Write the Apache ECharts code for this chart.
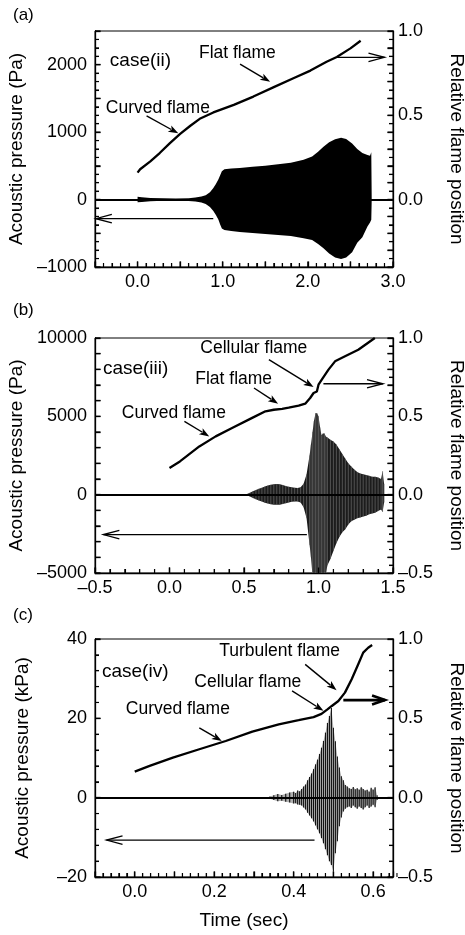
<!DOCTYPE html>
<html>
<head>
<meta charset="utf-8">
<script src="https://cdn.jsdelivr.net/npm/echarts@6/dist/echarts.min.js"></script>
<style>
  html, body { margin: 0; padding: 0; background: #fff; }
  #chart { width: 465px; height: 935px; }
</style>
</head>
<body>
<div id="chart"></div>
<script>
// ---------- (a) case(ii): pressure envelope (Pa) and flame position ----------
const aSigTime  = [0.00, 0.05, 0.15, 0.30, 0.45, 0.60, 0.68, 0.75, 0.80, 0.85, 0.89, 0.92, 0.95, 0.97, 0.99, 1.02, 1.10, 1.20, 1.35, 1.50, 1.65, 1.80, 1.95, 2.05, 2.12, 2.18, 2.25, 2.32, 2.39, 2.45, 2.52, 2.58, 2.64, 2.70, 2.73, 2.745, 2.75];
const aSigHigh  = [40, 35, 25, 18, 15, 20, 30, 45, 65, 110, 170, 230, 300, 360, 420, 450, 460, 470, 485, 500, 525, 545, 590, 640, 710, 780, 850, 895, 918, 900, 830, 750, 690, 660, 650, 700, 0];
const aSigLow   = [-40, -35, -25, -18, -15, -20, -30, -45, -65, -110, -170, -230, -300, -370, -430, -450, -465, -480, -495, -510, -525, -540, -575, -600, -660, -720, -800, -860, -880, -860, -780, -640, -560, -400, -340, -300, 0];
const aFlameTime = [0.00, 0.03, 0.15, 0.26, 0.38, 0.50, 0.62, 0.73, 0.89, 1.13, 1.36, 1.60, 1.83, 2.03, 2.22, 2.34, 2.50, 2.62];
const aFlamePos  = [0.16, 0.18, 0.227, 0.276, 0.335, 0.39, 0.438, 0.479, 0.517, 0.562, 0.611, 0.667, 0.72, 0.765, 0.818, 0.846, 0.897, 0.942];

// ---------- (b) case(iii) ----------
const bSigTime = [0.50, 0.52, 0.54, 0.56, 0.58, 0.60, 0.62, 0.64, 0.66, 0.68, 0.70, 0.72, 0.74, 0.76, 0.78, 0.80, 0.82, 0.84, 0.86, 0.88, 0.90, 0.92, 0.94,
                  0.95, 0.96, 0.97, 0.98, 0.99, 1.00, 1.01, 1.02, 1.03, 1.04, 1.05, 1.06,
                  1.08, 1.10, 1.12, 1.14, 1.16, 1.18, 1.20, 1.22, 1.24, 1.26, 1.28, 1.30, 1.32, 1.34, 1.36, 1.38, 1.40, 1.42, 1.43, 1.44];
const bSigHigh = [0, 40, 120, 220, 300, 380, 440, 520, 580, 630, 660, 680, 670, 620, 560, 510, 470, 440, 430, 480, 700, 1300, 2500,
                  3200, 4000, 4700, 5200, 5200, 5000, 4300, 3800, 3900, 3900, 3700, 3650,
                  3500, 3400, 3200, 2900, 2600, 2300, 2000, 1800, 1600, 1450, 1350, 1300, 1250, 1200, 1150, 1150, 1100, 1000, 1500, 700];
const bSigLow  = [0, -40, -120, -220, -300, -380, -440, -520, -570, -610, -640, -650, -640, -600, -550, -500, -460, -440, -430, -500, -800, -1500, -3200,
                  -4000, -5200, -6000, -6000, -6000, -6000, -6000, -6000, -6000, -5600, -5000, -4500,
                  -4100, -3600, -3100, -2700, -2400, -2200, -1900, -1700, -1600, -1500, -1450, -1400, -1350, -1250, -1200, -1150, -1050, -950, -1100, -500];
const bFlameTime = [0.00, 0.07, 0.20, 0.31, 0.42, 0.555, 0.644, 0.70, 0.756, 0.80, 0.867, 0.911, 0.944, 0.967, 0.989, 1.00, 1.022, 1.067, 1.111, 1.178, 1.267, 1.378];
const bFlamePos  = [0.17, 0.212, 0.308, 0.372, 0.425, 0.49, 0.532, 0.542, 0.547, 0.555, 0.568, 0.581, 0.617, 0.649, 0.659, 0.702, 0.734, 0.798, 0.851, 0.883, 0.925, 1.0];

// ---------- (c) case(iv): pressure in kPa ----------
const cSigTime = [0.34, 0.35, 0.36, 0.37, 0.38, 0.39, 0.40, 0.405, 0.41, 0.415, 0.42, 0.425, 0.43, 0.435, 0.44, 0.445, 0.45, 0.455, 0.46, 0.465,
                  0.47, 0.475, 0.48, 0.485, 0.49, 0.495, 0.50, 0.505, 0.51, 0.515, 0.52, 0.525, 0.53, 0.535, 0.54, 0.545, 0.55, 0.555, 0.56, 0.565,
                  0.57, 0.575, 0.58, 0.585, 0.59, 0.595, 0.60, 0.605, 0.61];
const cSigHigh = [0.3, 0.6, 0.9, 0.7, 1.0, 1.3, 1.5, 1.2, 1.8, 1.6, 2.2, 2.8, 3.3, 4.4, 5.2, 6.1, 7.2, 8.4, 9.6, 11.0,
                  12.6, 14.3, 16.4, 18.8, 20.6, 22.6, 17.6, 14.2, 10.4, 7.6, 5.4, 4.4, 3.2, 2.8, 2.4, 2.2, 2.7, 2.1, 2.4, 2.0,
                  2.6, 2.2, 1.8, 2.0, 1.5, 2.5, 2.0, 2.6, 0.6];
const cSigLow  = [-0.3, -0.6, -0.9, -0.8, -1.0, -1.2, -1.5, -1.4, -1.7, -1.8, -2.0, -2.5, -3.0, -3.8, -4.5, -5.2, -6.0, -7.0, -8.0, -9.0,
                  -10.2, -11.5, -13.0, -14.5, -16.0, -17.0, -18.6, -14.0, -11.0, -7.2, -5.0, -3.5, -2.8, -2.4, -2.2, -2.6, -2.0, -2.4, -2.8, -2.2,
                  -2.6, -3.0, -2.4, -2.0, -2.6, -2.2, -1.8, -2.4, -0.6];
const cFlameTime = [0.00, 0.0375, 0.096, 0.1625, 0.229, 0.296, 0.3625, 0.4125, 0.45, 0.47, 0.485, 0.496, 0.5125, 0.529, 0.546, 0.5625, 0.575, 0.5875, 0.5975];
const cFlamePos  = [0.164, 0.2, 0.252, 0.305, 0.357, 0.416, 0.462, 0.488, 0.508, 0.528, 0.556, 0.578, 0.609, 0.662, 0.746, 0.841, 0.914, 0.945, 0.962];

// ---------- axis ranges and tick spacing: [min, max, major, minor] ----------
const aTimeAxis  = [-0.5, 3.0, 0.5, 0.1];
const aPresAxis  = [-1000, 2500, 500, 125];
const aPosAxis   = [-0.4, 1.0, 0.1, 0.05];
const bTimeAxis  = [-0.5, 1.5, 0.5, 0.1];
const bPresAxis  = [-5000, 10000, 1000, 1000];
const bPosAxis   = [-0.5, 1.0, 0.1, 0.05];
const cTimeAxis  = [-0.1, 0.65, 0.1, 0.02];
const cPresAxis  = [-20, 40, 20, 4];
const cPosAxis   = [-0.5, 1.0, 0.5, 0.1];

// ---------- annotations (data units of each panel's left axis) ----------
const notesA = [
  { text: 'case(ii)', at: [-0.326, 2054], size: 19 },
  { text: 'Curved flame', at: [-0.373, 1354] },
  { arrow: 'solid', from: [0.106, 1240], to: [0.478, 982] },
  { text: 'Flat flame', at: [0.721, 2173] },
  { arrow: 'solid', from: [1.204, 2009], to: [1.557, 1746] },
  { arrow: 'open', from: [2.341, 2109], to: [2.90, 2109] },
  { arrow: 'open', from: [0.889, -283], to: [-0.49, -283] }
];
const notesB = [
  { text: 'case(iii)', at: [-0.447, 8040], size: 19 },
  { text: 'Curved flame', at: [-0.32, 5214] },
  { arrow: 'solid', from: [0.10, 4680], to: [0.267, 3720] },
  { text: 'Flat flame', at: [0.173, 7400] },
  { arrow: 'solid', from: [0.567, 6810], to: [0.729, 5810] },
  { text: 'Cellular flame', at: [0.207, 9320] },
  { arrow: 'solid', from: [0.667, 8620], to: [0.967, 6870] },
  { arrow: 'open', from: [1.033, 7080], to: [1.433, 7080] },
  { arrow: 'open', from: [0.922, -2550], to: [-0.444, -2550] }
];
const notesC = [
  { text: 'case(iv)', at: [-0.0825, 31.8], size: 19 },
  { text: 'Curved flame', at: [-0.0225, 22.2] },
  { arrow: 'solid', from: [0.1625, 17.6], to: [0.219, 14.3] },
  { text: 'Cellular flame', at: [0.15, 29.0] },
  { arrow: 'solid', from: [0.396, 26.9], to: [0.475, 21.9] },
  { text: 'Turbulent flame', at: [0.2125, 36.9] },
  { arrow: 'solid', from: [0.429, 33.6], to: [0.508, 27.1] },
  { arrow: 'open', from: [0.525, 24.6], to: [0.63, 24.6], width: 2.6 },
  { arrow: 'open', from: [0.4525, -10.7], to: [-0.071, -10.7] }
];

const FONT = '"Liberation Sans", Arial, Helvetica, sans-serif';
const DASH = '\u2013';

function near(v, step) { return Math.abs(v / step - Math.round(v / step)) < 1e-6; }
function signed(s, v) { return v < 0 ? DASH + s.replace('-', '') : s; }
function fmtFixed(step, digits) {
  return v => near(v, step) ? signed(Math.abs(v) < 1e-9 ? (0).toFixed(digits) : v.toFixed(digits), v) : '';
}
function fmtInt(step) {
  return v => near(v, step) ? signed(String(Math.round(v)), v) : '';
}
// Tick values between min and max at a given spacing
function tickValues(min, max, step) {
  const out = [];
  const n = Math.round((max - min) / step);
  for (let k = 0; k <= n; k++) out.push(+(min + k * step).toFixed(6));
  return out;
}

const GRID_LEFT = 95, GRID_W = 298;
const grids = [
  { top: 31, height: 236 },
  { top: 338, height: 235 },
  { top: 639, height: 238 }
].map(g => ({
  left: GRID_LEFT, width: GRID_W, top: g.top, height: g.height,
  show: true, borderColor: '#000', outerBoundsMode: 'none'
}));

function tickCfg(ax) {
  const split = Math.max(2, Math.round(ax[2] / ax[3]));
  return {
    axisTick: { show: true, inside: true, length: 5.5, lineStyle: { color: '#000', width: 1.3 } },
    minorTick: { show: ax[2] !== ax[3], splitNumber: split, length: 4, lineStyle: { color: '#000', width: 1.1 } },
    splitLine: { show: false },
    minorSplitLine: { show: false }
  };
}

function xAxis(gi, ax, fmt, name) {
  return Object.assign({
    type: 'value', gridIndex: gi, position: 'bottom', min: ax[0], max: ax[1], interval: ax[2],
    axisLine: { show: true, onZero: false, lineStyle: { color: '#000', width: 1.3 } },
    axisLabel: { show: true, color: '#000', fontSize: 18, fontFamily: FONT, margin: 6, formatter: fmt, showMinLabel: true, showMaxLabel: true },
    name: name || '', nameLocation: 'middle', nameGap: 34,
    nameTextStyle: { color: '#000', fontSize: 19, fontFamily: FONT }
  }, tickCfg(ax));
}
function yAxis(gi, side, ax, fmt, name) {
  const left = side === 'left';
  return Object.assign({
    type: 'value', gridIndex: gi, position: side, min: ax[0], max: ax[1], interval: ax[2],
    axisLine: { show: true, onZero: false, lineStyle: { color: '#000', width: 1.3 } },
    axisLabel: { show: true, color: '#000', fontSize: 18, fontFamily: FONT, margin: left ? 8 : 5, formatter: fmt, showMinLabel: true, showMaxLabel: true },
    name: name, nameLocation: 'middle', nameRotate: left ? 90 : -90, nameGap: left ? 63 : 54,
    nameTextStyle: { color: '#000', fontSize: 19, fontFamily: FONT }
  }, tickCfg(ax));
}

// Filled envelope drawn as one polygon through the axis scales
function envelope(gi, ts, hi, lo, fill) {
  return {
    type: 'custom', xAxisIndex: gi, yAxisIndex: gi * 2, clip: true, silent: true, z: 2,
    data: [[ts[0], 0]],
    renderItem: (params, api) => {
      const pts = [];
      for (let i = 0; i < ts.length; i++) pts.push(api.coord([ts[i], hi[i]]));
      for (let i = ts.length - 1; i >= 0; i--) pts.push(api.coord([ts[i], lo[i]]));
      return { type: 'polygon', shape: { points: pts }, style: { fill: fill } };
    }
  };
}
// Individual oscillation strokes from low to high sample values
function strokes(gi, ts, hi, lo, color, width) {
  return {
    type: 'custom', xAxisIndex: gi, yAxisIndex: gi * 2, clip: true, silent: true, z: 3,
    data: ts.map((t, i) => [t, lo[i], hi[i]]),
    encode: { x: 0, y: [1, 2] },
    renderItem: (params, api) => {
      const a = api.coord([api.value(0), api.value(1)]);
      const b = api.coord([api.value(0), api.value(2)]);
      return { type: 'line', shape: { x1: a[0], y1: a[1], x2: b[0], y2: b[1] }, style: { stroke: color, lineWidth: width } };
    }
  };
}
// Inward tick marks, one item per tick: [x value, y value, direction, major flag]
// direction 0 = up from the bottom edge, 1 = right from the left edge, 2 = left from the right edge
function tickItems(tx, ly, ry) {
  const items = [];
  const toLeft = r => ly[0] + (r - ry[0]) * (ly[1] - ly[0]) / (ry[1] - ry[0]);
  tickValues(tx[0], tx[1], tx[3]).forEach(v => items.push([v, ly[0], 0, near(v - tx[0], tx[2]) ? 1 : 0]));
  tickValues(ly[0], ly[1], ly[3]).forEach(v => items.push([tx[0], v, 1, near(v - ly[0], ly[2]) ? 1 : 0]));
  tickValues(ry[0], ry[1], ry[3]).forEach(v => items.push([tx[1], toLeft(v), 2, near(v - ry[0], ry[2]) ? 1 : 0]));
  return items;
}
function tickSeries(gi, tx, ly, ry) {
  return {
    type: 'custom', xAxisIndex: gi, yAxisIndex: gi * 2, clip: false, silent: true, z: 7,
    data: tickItems(tx, ly, ry),
    encode: { x: 0, y: 1 },
    renderItem: (params, api) => {
      const p = api.coord([api.value(0), api.value(1)]);
      const dir = api.value(2), major = api.value(3) === 1;
      const len = major ? 5.5 : 4;
      const q = dir === 0 ? [p[0], p[1] - len] : dir === 1 ? [p[0] + len, p[1]] : [p[0] - len, p[1]];
      return { type: 'line', shape: { x1: p[0], y1: p[1], x2: q[0], y2: q[1] }, style: { stroke: '#000', lineWidth: major ? 1.3 : 1.1 } };
    }
  };
}
function flame(gi, ts, rs) {
  return {
    type: 'line', xAxisIndex: gi, yAxisIndex: gi * 2 + 1, data: ts.map((t, i) => [t, rs[i]]),
    showSymbol: false, symbol: 'none', smooth: false, z: 4, silent: true,
    lineStyle: { color: '#000', width: 2.3 },
    markLine: {
      silent: true, symbol: ['none', 'none'], label: { show: false },
      lineStyle: { color: '#000', width: 2.2, type: 'solid' },
      data: [{ yAxis: 0 }]
    }
  };
}
function arrowGroup(p1, p2, kind, lw) {
  const dx = p2[0] - p1[0], dy = p2[1] - p1[1];
  const L = Math.hypot(dx, dy) || 1, ux = dx / L, uy = dy / L, nx = -uy, ny = ux;
  const kids = [];
  if (kind === 'solid') {
    const hl = 10, hw = 3.6;
    const bx = p2[0] - ux * hl, by = p2[1] - uy * hl;
    kids.push({ type: 'line', shape: { x1: p1[0], y1: p1[1], x2: bx + ux * 2, y2: by + uy * 2 }, style: { stroke: '#000', lineWidth: lw } });
    kids.push({ type: 'polygon', shape: { points: [[p2[0], p2[1]], [bx + nx * hw, by + ny * hw], [bx + ux * 2.5, by + uy * 2.5], [bx - nx * hw, by - ny * hw]] }, style: { fill: '#000' } });
  } else {
    const hl = lw > 2 ? 13 : 16, hw = lw > 2 ? 4.5 : 4.2;
    const bx = p2[0] - ux * hl, by = p2[1] - uy * hl;
    kids.push({ type: 'line', shape: { x1: p1[0], y1: p1[1], x2: p2[0], y2: p2[1] }, style: { stroke: '#000', lineWidth: lw } });
    kids.push({ type: 'polyline', shape: { points: [[bx + nx * hw, by + ny * hw], [p2[0], p2[1]], [bx - nx * hw, by - ny * hw]] }, style: { stroke: '#000', lineWidth: lw, fill: null } });
  }
  return { type: 'group', children: kids };
}
function notes(gi, list) {
  return {
    type: 'custom', xAxisIndex: gi, yAxisIndex: gi * 2, clip: false, silent: true, z: 6,
    data: list.map(n => (n.at || n.from).slice()),
    renderItem: (params, api) => {
      const n = list[params.dataIndex];
      if (n.text) {
        const p = api.coord(n.at);
        return { type: 'text', x: p[0], y: p[1], style: { text: n.text, fill: '#000', font: (n.size || 17.5) + 'px ' + FONT, align: 'left', verticalAlign: 'middle' } };
      }
      return arrowGroup(api.coord(n.from), api.coord(n.to), n.arrow, n.width || (n.arrow === 'open' ? 1.3 : 1.4));
    }
  };
}

const option = {
  animation: false,
  grid: grids,
  xAxis: [
    xAxis(0, aTimeAxis, fmtFixed(1, 1)),
    xAxis(1, bTimeAxis, fmtFixed(0.5, 1)),
    xAxis(2, cTimeAxis, v => (near(v, 0.2) && v > -1e-9) ? (Math.abs(v) < 1e-9 ? '0.0' : v.toFixed(1)) : '', 'Time (sec)')
  ],
  yAxis: [
    yAxis(0, 'left', aPresAxis, fmtInt(1000), 'Acoustic pressure (Pa)'),
    yAxis(0, 'right', aPosAxis, fmtFixed(0.5, 1), 'Relative flame position'),
    yAxis(1, 'left', bPresAxis, fmtInt(5000), 'Acoustic pressure (Pa)'),
    yAxis(1, 'right', bPosAxis, fmtFixed(0.5, 1), 'Relative flame position'),
    yAxis(2, 'left', cPresAxis, fmtInt(20), 'Acoustic pressure (kPa)'),
    yAxis(2, 'right', cPosAxis, fmtFixed(0.5, 1), 'Relative flame position')
  ],
  series: [
    envelope(0, aSigTime, aSigHigh, aSigLow, '#000'),
    flame(0, aFlameTime, aFlamePos),
    notes(0, notesA),
    tickSeries(0, aTimeAxis, aPresAxis, aPosAxis),

    envelope(1, bSigTime, bSigHigh, bSigLow, '#1c1c1c'),
    strokes(1, bSigTime, bSigHigh, bSigLow, '#6a6a6a', 0.7),
    flame(1, bFlameTime, bFlamePos),
    notes(1, notesB),
    tickSeries(1, bTimeAxis, bPresAxis, bPosAxis),

    envelope(2, cSigTime, cSigHigh, cSigLow, '#b0b0b0'),
    strokes(2, cSigTime, cSigHigh, cSigLow, '#111', 1.1),
    flame(2, cFlameTime, cFlamePos),
    notes(2, notesC),
    tickSeries(2, cTimeAxis, cPresAxis, cPosAxis)
  ],
  graphic: [
    { type: 'text', left: 13, top: 7, style: { text: '(a)', fill: '#000', font: '17px ' + FONT } },
    { type: 'text', left: 13, top: 302, style: { text: '(b)', fill: '#000', font: '17px ' + FONT } },
    { type: 'text', left: 13, top: 607, style: { text: '(c)', fill: '#000', font: '17px ' + FONT } }
  ]
};

const chart = echarts.init(document.getElementById('chart'), null, { renderer: 'canvas' });
chart.setOption(option);
</script>
</body>
</html>
